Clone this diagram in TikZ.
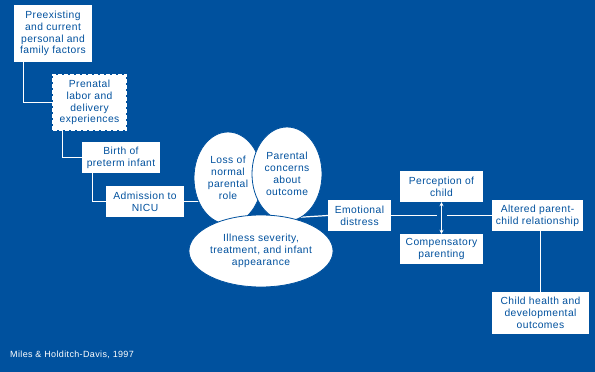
\documentclass[tikz,border=0pt]{standalone}
\usepackage{fontspec}
\setmainfont[LetterSpace=4]{Liberation Sans}
\usetikzlibrary{positioning, shapes.geometric, arrows.meta, backgrounds, calc}
\definecolor{bgblue}{RGB}{0,81,158}
\begin{document}
\begin{tikzpicture}[x=1pt, y=-1pt,
            box/.style={rectangle, fill=white, text=bgblue, align=center, inner sep=0pt, font=\fontsize{10.3}{11.8}\selectfont},
            dashbox/.style={box, draw=white, line width=2.5pt, dash pattern=on 4pt off 2pt},
            oval/.style={ellipse, fill=white, draw=bgblue, line width=0.8pt, text=bgblue, align=center, inner sep=0pt, font=\fontsize{10.3}{11.8}\selectfont},
            link/.style={draw=white, line width=1.2pt},
        ]
            \useasboundingbox (0,0) rectangle (595,372);
            \node(prenode) at (53,33.5) [box, minimum width=78pt, minimum height=57pt] {Preexisting\\ and current\\ personal and\\ family factors};
            \node(prenatalnode) at (89.5,102.5) [dashbox, minimum width=73pt, minimum height=55pt] {Prenatal\\ labor and\\ delivery\\ experiences};
            \node(birthnode) at (121,157.5) [box, minimum width=78pt, minimum height=31pt] {Birth of\\ preterm infant};
            \node(nicunode) at (145,201.5) [box, minimum width=78pt, minimum height=31pt] {Admission to\\ NICU};
            \node(lossnode) at (228,178) [oval, minimum width=68pt, minimum height=92pt] {Loss of\\ normal\\ parental\\ role};
            \node(concernnode) at (287,174) [oval, minimum width=70pt, minimum height=94pt] {Parental\\ concerns\\ about\\ outcome};
            \node(illnessnode) at (261,251) [oval, minimum width=126pt, minimum height=72pt] {Illness severity,\\ treatment, and infant\\ appearance};
            \node(distressnode) at (359.5,215.5) [box, minimum width=63pt, minimum height=31pt] {Emotional\\ distress};
            \node(perceptnode) at (441.5,186.5) [box, minimum width=83pt, minimum height=31pt] {Perception of\\ child};
            \node(compnode) at (441.5,249) [box, minimum width=83pt, minimum height=30pt] {Compensatory\\ parenting};
            \node(alterednode) at (537.5,215.5) [box, minimum width=91pt, minimum height=31pt] {Altered parent-\\ child relationship};
            \node(outcomenode) at (540.5,313) [box, minimum width=97pt, minimum height=42pt] {Child health and\\ developmental\\ outcomes};
            \node(sourcenode) at (10,355) [anchor=west, inner sep=0pt, text=white, font=\fontsize{9}{10}\selectfont] {Miles \& Holditch-Davis, 1997};
            \begin{pgfonlayer}{background}
                \fill[bgblue] (0,0) rectangle (595,372);
                \draw[link] ($(prenode.south west)+(10,0)$) |- (prenatalnode.west);
                \draw[link] ($(prenatalnode.south west)+(11,0)$) |- (birthnode.west);
                \draw[link] ($(birthnode.south west)+(11,0)$) |- (nicunode.west);
                \draw[link] (nicunode.east) -- (nicunode.east -| lossnode.center);
                \draw[link] (illnessnode.48) -- (distressnode.west);
                \draw[link] (distressnode.east) -- (alterednode.west);
                \draw[bgblue, line width=10pt] (perceptnode.south) -- (compnode.north);
                \draw[link, {Stealth[length=4pt,width=4pt]}-{Stealth[length=4pt,width=4pt]}] (perceptnode.south) -- (compnode.north);
                \draw[link] (outcomenode.north) -- (outcomenode.north |- alterednode.south);
            \end{pgfonlayer}
        \end{tikzpicture}
\end{document}
